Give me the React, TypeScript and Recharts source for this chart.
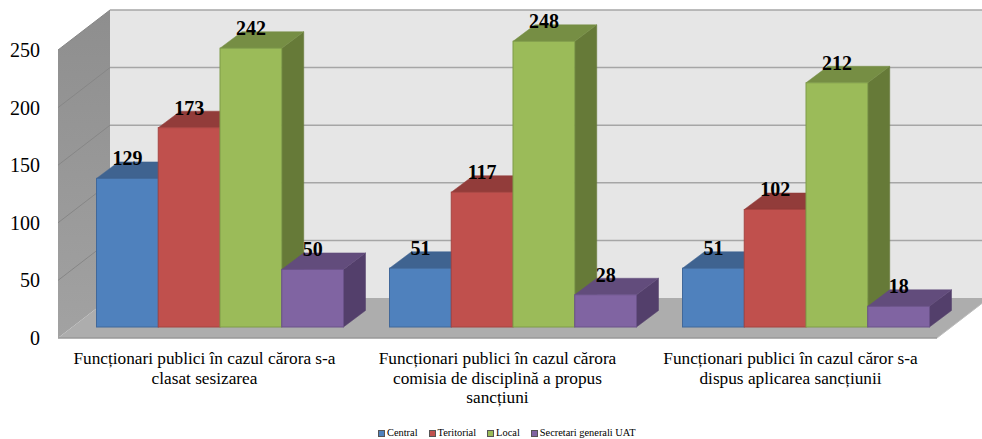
import { BarChart, Bar, XAxis, YAxis, LabelList, Legend, ReferenceArea } from 'recharts';

const categories = [
  'Funcționari publici în cazul cărora s-a\nclasat sesizarea',
  'Funcționari publici în cazul cărora\ncomisia de disciplină a propus\nsancțiuni',
  'Funcționari publici în cazul căror s-a\ndispus aplicarea sancțiunii',
];
const central = [129, 51, 51];
const teritorial = [173, 117, 102];
const local = [242, 248, 212];
const secretari = [50, 28, 18];
const yTicks = [0, 50, 100, 150, 200, 250];

const chartData = categories.map((name, i) => ({
  name,
  central: central[i],
  teritorial: teritorial[i],
  local: local[i],
  secretari: secretari[i],
}));

const FONT = '"Liberation Serif", serif';

// perspective of the fake 3D box, relative to the plot rect
const FRONT_DX = -15.5;
const FRONT_DY = 11;
const BACK_DX = 36.5;
const BACK_DY = -29;
const BAR_DX = 22;
const BAR_DY = -16.5;

function pts(list: number[][]) {
  return list.map(p => p.join(',')).join(' ');
}

function Walls({ x, y, width, height }: any) {
  const fl = x + FRONT_DX;
  const fr = x + width + FRONT_DX;
  const bl = x + BACK_DX;
  const br = x + width + BACK_DX;
  const top = y;
  const bottom = y + height;
  return (
    <g>
      <defs>
        <linearGradient id="sideWall" x1="0" y1="0" x2="0" y2="1">
          <stop offset="0%" stopColor="#8e8e8e" />
          <stop offset="100%" stopColor="#a2a2a2" />
        </linearGradient>
      </defs>
      <polygon
        points={pts([[bl, top + BACK_DY], [br, top + BACK_DY], [br, bottom + BACK_DY], [bl, bottom + BACK_DY]])}
        fill="#e6e6e6"
      />
      <polygon
        points={pts([[fl, top + FRONT_DY], [bl, top + BACK_DY], [bl, bottom + BACK_DY], [fl, bottom + FRONT_DY]])}
        fill="url(#sideWall)"
      />
      <polygon
        points={pts([[fl, bottom + FRONT_DY], [fr, bottom + FRONT_DY], [br, bottom + BACK_DY], [bl, bottom + BACK_DY]])}
        fill="#adadad"
      />
      <line x1={fl} y1={bottom + FRONT_DY} x2={fr} y2={bottom + FRONT_DY} stroke="#989898" strokeWidth={1.5} />
      <line x1={fr} y1={bottom + FRONT_DY} x2={br} y2={bottom + BACK_DY} stroke="#bdbdbd" strokeWidth={1} />
    </g>
  );
}

// drawn as a ReferenceArea from 0 up to the tick, so only the top edge is used and it stays behind the bars
function GridLine3D({ x, y, width }: any) {
  const bl = x + BACK_DX;
  return (
    <g>
      <line x1={x + FRONT_DX} y1={y + FRONT_DY} x2={bl} y2={y + BACK_DY} stroke="#868686" strokeWidth={1} />
      <line x1={bl} y1={y + BACK_DY} x2={x + width + BACK_DX} y2={y + BACK_DY} stroke="#a6a6a6" strokeWidth={1.5} />
    </g>
  );
}

function bar3D(front: string, topFace: string, side: string, edge: string) {
  return function Bar3D({ x, y, width, height }: any) {
    const r = x + width;
    const b = y + height;
    return (
      <g>
        <polygon points={pts([[r, y], [r + BAR_DX, y + BAR_DY], [r + BAR_DX, b + BAR_DY], [r, b]])} fill={side} stroke={side} strokeWidth={0.5} />
        <polygon points={pts([[x, y], [x + BAR_DX, y + BAR_DY], [r + BAR_DX, y + BAR_DY], [r, y]])} fill={topFace} stroke={topFace} strokeWidth={0.5} />
        <rect x={x} y={y} width={width} height={height} fill={front} stroke={edge} strokeWidth={1} />
      </g>
    );
  };
}

function YTick({ y, payload }: any) {
  return (
    <text x={40} y={y + FRONT_DY + 7} textAnchor="end" fontSize={20} fontFamily={FONT} fill="#000">
      {payload.value}
    </text>
  );
}

function XTick({ x, y, payload }: any) {
  const lines = String(payload.value).split('\n');
  return (
    <text textAnchor="middle" fontSize={17.25} fontFamily={FONT} fill="#000">
      {lines.map((line, i) => (
        <tspan key={i} x={x + FRONT_DX} y={y + 29 + i * 19.6}>
          {line}
        </tspan>
      ))}
    </text>
  );
}

function LegendRow({ payload }: any) {
  return (
    <div style={{ display: 'flex', justifyContent: 'flex-start', paddingLeft: 378, fontFamily: FONT, fontSize: 10.4, lineHeight: '12px', color: '#000' }}>
      {(payload || []).map((item: any) => (
        <span key={item.value} style={{ display: 'flex', alignItems: 'center', marginRight: 11 }}>
          <span style={{ width: 7, height: 7, background: item.color, border: '0.5px solid #555', boxSizing: 'border-box', marginRight: 2 }} />
          {item.value}
        </span>
      ))}
    </div>
  );
}

export default function App() {
  return (
    <div style={{ position: 'absolute', left: 0, top: 0, width: 982, height: 439, background: '#fff', overflow: 'hidden' }}>
      <BarChart
        width={982}
        height={439}
        data={chartData}
        margin={{ top: 39, right: 29.5, bottom: 0, left: 0 }}
        barCategoryGap={23}
        barGap={0}
        barSize={61.75}
      >
        <XAxis dataKey="name" axisLine={false} tickLine={false} tick={XTick} height={100} interval={0} />
        <YAxis domain={[0, 250]} ticks={yTicks} axisLine={false} tickLine={false} tick={YTick} width={73.5} />
        <ReferenceArea y1={0} y2={250} shape={Walls} ifOverflow="visible" />
        {yTicks.slice(1).map(v => (
          <ReferenceArea key={v} y1={0} y2={v} shape={GridLine3D} ifOverflow="visible" />
        ))}
        <Bar dataKey="central" name="Central" fill="#4f81bd" isAnimationActive={false} shape={bar3D('#4f81bd', '#3f6390', '#34557c', '#41689a')}>
          <LabelList dataKey="central" position="top" offset={13} fill="#000" fontSize={20} fontWeight="bold" fontFamily={FONT} />
        </Bar>
        <Bar dataKey="teritorial" name="Teritorial" fill="#c0504d" isAnimationActive={false} shape={bar3D('#c0504d', '#923c3a', '#7e3331', '#a54441')}>
          <LabelList dataKey="teritorial" position="top" offset={13} fill="#000" fontSize={20} fontWeight="bold" fontFamily={FONT} />
        </Bar>
        <Bar dataKey="local" name="Local" fill="#9bbb59" isAnimationActive={false} shape={bar3D('#9bbb59', '#768e44', '#667a38', '#7f9c49')}>
          <LabelList dataKey="local" position="top" offset={13} fill="#000" fontSize={20} fontWeight="bold" fontFamily={FONT} />
        </Bar>
        <Bar dataKey="secretari" name="Secretari generali UAT" fill="#8064a2" isAnimationActive={false} shape={bar3D('#8064a2', '#624c7c', '#533f6b', '#6a5289')}>
          <LabelList dataKey="secretari" position="top" offset={13} fill="#000" fontSize={20} fontWeight="bold" fontFamily={FONT} />
        </Bar>
        <Legend verticalAlign="bottom" content={LegendRow} itemSorter={null} wrapperStyle={{ left: 0, width: 982, bottom: 0 }} />
      </BarChart>
    </div>
  );
}
